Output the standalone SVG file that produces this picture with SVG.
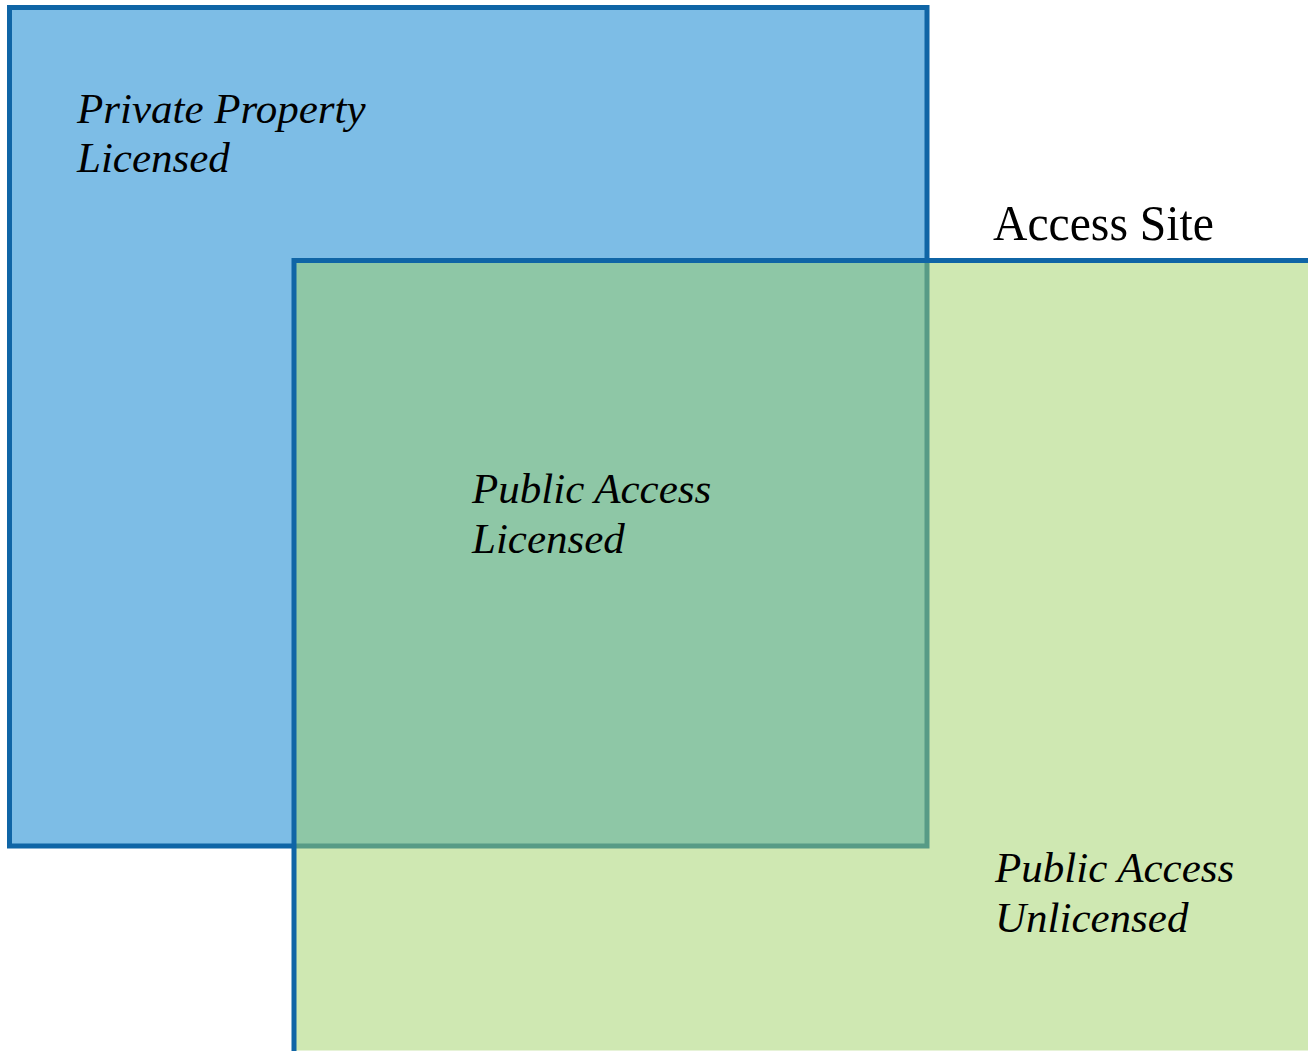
<svg xmlns="http://www.w3.org/2000/svg" width="1308" height="1051" viewBox="0 0 1308 1051">
<style>
.lbl{font-family:"Liberation Serif","Times New Roman",serif;font-style:italic;font-size:43px;fill:#000}
.title{font-family:"Liberation Serif","Times New Roman",serif;font-size:50px;fill:#000}
</style>
<rect x="0" y="0" width="1308" height="1051" fill="#ffffff"/>
<g id="private">
<rect x="9.5" y="7.5" width="917.5" height="838.5" fill="#7DBDE6" stroke="#0F65A6" stroke-width="5"/>
</g>
<g id="public">
<rect x="294" y="260.5" width="1030" height="790" fill="#9FD165" fill-opacity="0.5" stroke="none"/>
<path d="M1320 260.5 H294 V1060" fill="none" stroke="#0F65A6" stroke-width="5"/>
</g>
<g id="labels">
<text class="lbl" x="77" y="123">Private Property</text>
<text class="lbl" x="77" y="172">Licensed</text>
<text class="title" x="993" y="240" textLength="221" lengthAdjust="spacingAndGlyphs">Access Site</text>
<text class="lbl" x="472" y="503">Public Access</text>
<text class="lbl" x="472" y="553">Licensed</text>
<text class="lbl" x="995" y="882">Public Access</text>
<text class="lbl" x="995" y="932">Unlicensed</text>
</g>
</svg>
